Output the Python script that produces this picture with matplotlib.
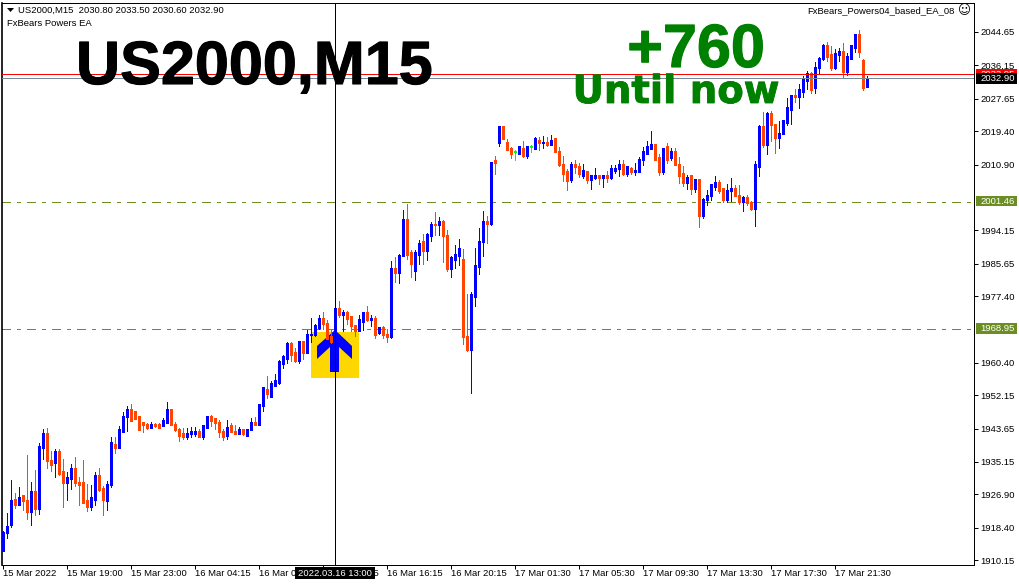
import matplotlib
matplotlib.use('Agg')
import matplotlib.pyplot as plt
import matplotlib.patheffects as pe
from matplotlib.patches import Rectangle, Polygon

plt.rcParams['font.family'] = ['Liberation Sans', 'DejaVu Sans']

# OHLC of the US2000 M15 bars
opens = [1912.7,1917.1,1919.1,1925.5,1924.4,1926.5,1925.2,1922.6,1927.5,1923.2,1938.7,1942.5,1935.6,1934.9,1937.7,1932.6,
         1929.8,1931.0,1933.6,1930.0,1929.8,1925.2,1923.9,1925.7,1931.8,1928.3,1925.2,1929.3,1939.7,1938.9,1943.0,1946.8,
         1948.4,1947.9,1946.6,1945.1,1944.8,1944.0,1944.8,1944.8,1944.3,1945.3,1948.4,1944.8,1943.5,1942.3,1941.5,1942.3,
         1942.5,1943.0,1941.5,1944.0,1946.8,1946.1,1945.3,1943.0,1941.8,1944.3,1943.0,1942.5,1943.5,1942.0,1943.3,1945.3,
         1944.8,1949.6,1953.7,1951.9,1954.7,1955.5,1960.3,1961.6,1965.4,1962.9,1961.1,1965.7,1962.9,1967.5,1967.5,1969.5,
         1971.6,1970.5,1967.2,1968.7,1974.1,1972.6,1973.1,1972.1,1969.8,1968.7,1971.0,1973.1,1971.3,1971.6,1968.0,1969.3,
         1967.5,1967.0,1984.3,1983.3,1987.6,1997.0,1988.4,1983.8,1988.1,1991.2,1988.9,1992.9,1995.7,1995.5,1996.5,1992.9,
         1984.3,1986.8,1987.8,1986.8,1967.2,1963.7,1977.4,1985.0,1991.4,1996.5,1996.0,2011.8,2016.4,2020.5,2016.6,2015.1,
         2014.1,2013.8,2015.1,2013.3,2015.4,2015.1,2017.1,2016.4,2016.6,2016.1,2017.4,2014.3,2011.0,2009.0,2007.0,2010.8,
         2010.3,2008.2,2009.2,2007.0,2007.7,2008.0,2007.5,2008.0,2007.5,2009.5,2009.8,2011.0,2008.5,2010.0,2009.0,2009.0,
         2012.3,2013.6,2015.1,2015.9,2012.6,2009.2,2015.4,2012.6,2014.3,2011.0,2008.7,2006.4,2008.0,2004.9,2007.0,1998.0,
         2001.9,2002.9,2005.2,2006.4,2004.7,2001.9,2004.2,2004.7,2003.1,2001.4,2002.6,2001.1,1999.6,2010.5,2020.7,2016.1,
         2024.0,2021.2,2017.9,2018.7,2021.7,2025.0,2028.6,2028.1,2029.6,2032.4,2034.0,2030.4,2035.5,2038.0,2041.3,2038.8,
         2035.7,2038.8,2039.8,2034.7,2038.0,2040.8,2043.9,2037.3,2030.8]
highs = [1917.6,1922.1,1930.5,1927.2,1928.8,1926.7,1936.9,1930.0,1933.1,1940.0,1943.5,1943.8,1937.9,1938.4,1938.4,1935.9,
         1932.6,1934.6,1936.4,1931.3,1935.6,1929.5,1929.3,1932.6,1933.6,1929.0,1930.3,1941.5,1941.5,1944.3,1947.9,1949.4,
         1949.9,1947.9,1946.8,1945.3,1945.1,1945.3,1945.1,1945.1,1946.3,1950.4,1948.6,1945.3,1943.8,1943.8,1943.8,1944.0,
         1944.0,1943.5,1944.6,1946.8,1947.1,1946.3,1945.8,1943.5,1945.8,1945.1,1944.6,1944.0,1943.5,1943.5,1946.3,1946.6,
         1949.9,1954.0,1957.0,1955.8,1957.5,1961.1,1962.4,1965.7,1965.7,1964.2,1965.7,1965.9,1968.7,1971.8,1970.3,1972.6,
         1973.3,1971.3,1968.7,1974.1,1976.1,1973.8,1973.6,1972.1,1970.0,1972.6,1973.1,1974.9,1972.6,1972.3,1969.5,1969.8,
         1969.0,1986.3,1987.3,1988.1,1999.3,2000.8,1989.1,1989.1,1991.7,1993.2,1993.5,1996.3,1998.8,1997.5,1996.8,1994.2,
         1987.6,1990.4,1991.9,1989.4,1977.9,1978.4,1989.6,1994.7,1999.1,1997.8,2011.5,2013.1,2020.5,2020.5,2017.4,2015.4,
         2014.6,2015.4,2016.9,2015.6,2015.9,2017.9,2017.9,2018.2,2017.9,2018.4,2017.4,2015.4,2013.1,2009.8,2011.5,2012.0,
         2011.3,2011.0,2009.2,2008.0,2010.0,2008.0,2008.2,2009.2,2010.8,2010.8,2012.0,2012.0,2010.5,2010.3,2011.3,2012.8,
         2015.4,2016.9,2019.4,2015.9,2013.6,2015.1,2016.4,2015.1,2015.1,2012.8,2010.5,2008.2,2008.2,2007.2,2007.2,2002.4,
         2004.4,2006.0,2008.0,2007.0,2004.9,2005.9,2007.5,2005.7,2005.7,2002.9,2003.1,2001.6,2011.8,2021.0,2024.3,2024.3,
         2024.5,2021.2,2022.0,2022.0,2027.8,2028.6,2030.1,2031.4,2033.4,2034.7,2034.5,2037.0,2038.3,2041.6,2042.1,2041.1,
         2040.3,2040.6,2041.8,2039.3,2041.3,2044.1,2045.2,2037.8,2033.5]
lows = [1912.7,1915.8,1918.6,1923.4,1924.2,1922.9,1920.6,1919.1,1921.6,1921.9,1935.9,1933.6,1932.8,1931.3,1931.8,1923.7,
        1925.5,1928.3,1929.0,1924.2,1924.7,1922.6,1922.9,1924.2,1927.7,1921.6,1922.9,1928.8,1937.4,1938.7,1943.0,1943.0,
        1945.6,1946.1,1943.5,1942.8,1943.5,1943.8,1944.0,1943.8,1944.3,1945.3,1944.6,1943.0,1940.5,1941.0,1941.0,1941.5,
        1941.8,1941.5,1941.0,1944.0,1944.3,1943.5,1941.5,1940.7,1941.0,1942.8,1942.3,1942.5,1942.0,1941.8,1943.3,1944.8,
        1944.8,1948.1,1951.4,1951.9,1954.5,1955.0,1959.1,1960.3,1960.9,1960.6,1960.3,1961.4,1962.9,1965.7,1967.2,1969.0,
        1969.0,1966.5,1965.4,1966.2,1972.1,1968.5,1970.3,1968.5,1967.2,1968.7,1968.7,1971.0,1969.8,1966.7,1967.7,1966.7,
        1965.7,1966.7,1981.0,1980.7,1987.6,1986.8,1982.3,1981.5,1985.6,1985.6,1986.6,1991.4,1992.9,1992.9,1986.1,1983.8,
        1982.3,1984.5,1985.3,1965.2,1963.4,1952.7,1974.9,1983.0,1987.6,1990.9,1995.5,2008.5,2015.6,2017.4,2014.6,2012.6,
        2012.0,2013.6,2012.8,2012.6,2014.1,2014.9,2014.6,2015.1,2015.6,2015.9,2014.1,2010.5,2006.7,2004.4,2006.4,2008.7,
        2007.7,2007.5,2006.2,2004.7,2007.2,2005.9,2005.2,2006.4,2007.2,2008.7,2008.0,2008.2,2008.0,2008.5,2008.2,2009.0,
        2010.8,2013.6,2015.1,2012.0,2008.2,2008.5,2011.3,2012.0,2011.0,2006.2,2005.4,2004.7,2003.4,2003.9,1995.0,1997.3,
        2000.6,2001.9,2004.4,2003.6,2001.4,2001.4,2001.6,2003.1,2000.8,1999.1,2000.6,1999.3,1995.2,2008.0,2015.4,2013.6,
        2016.9,2013.8,2015.1,2018.7,2021.0,2021.2,2026.8,2025.3,2028.1,2030.1,2029.1,2029.1,2034.0,2037.5,2037.3,2035.0,
        2035.2,2037.3,2033.0,2033.7,2038.0,2039.6,2038.3,2029.9,2030.6]
closes = [1917.1,1918.8,1925.2,1924.4,1926.2,1925.2,1922.6,1927.5,1923.4,1939.2,1942.5,1935.4,1934.6,1937.7,1932.3,1930.0,
          1931.3,1933.6,1929.8,1929.5,1924.9,1923.9,1926.0,1931.8,1928.0,1925.5,1929.5,1940.2,1938.9,1943.3,1946.8,1948.6,
          1945.8,1946.3,1943.5,1944.6,1943.8,1944.6,1944.3,1944.0,1945.6,1948.4,1944.6,1943.3,1942.0,1941.5,1942.5,1942.8,
          1943.0,1941.5,1944.3,1946.8,1945.8,1945.1,1942.8,1941.5,1944.0,1943.0,1942.5,1943.5,1942.3,1943.5,1945.3,1944.8,
          1949.9,1954.0,1952.7,1955.0,1955.8,1960.6,1961.9,1965.4,1962.6,1960.9,1965.7,1962.9,1967.7,1967.7,1969.8,1971.8,
          1970.3,1966.7,1965.7,1974.1,1972.6,1973.1,1971.8,1969.8,1968.7,1971.3,1973.1,1971.3,1971.8,1967.7,1969.3,1967.5,
          1967.0,1984.5,1983.3,1987.6,1997.0,1988.1,1985.8,1988.4,1990.9,1988.9,1993.2,1995.5,1995.5,1996.5,1992.7,1984.3,
          1987.1,1988.1,1989.4,1967.0,1963.7,1977.7,1985.3,1991.4,1996.3,1996.0,2011.3,2011.3,2020.5,2017.4,2014.6,2013.6,
          2014.1,2015.4,2013.1,2015.4,2015.4,2017.4,2016.4,2016.6,2016.1,2017.1,2014.1,2010.8,2008.7,2006.7,2010.8,2010.3,
          2008.5,2009.5,2007.0,2008.0,2008.0,2007.5,2008.0,2007.5,2009.8,2010.0,2011.0,2008.5,2010.3,2009.0,2009.5,2012.3,
          2014.1,2015.4,2015.9,2012.3,2009.2,2015.1,2012.3,2014.1,2011.0,2008.2,2006.4,2007.7,2004.9,2007.2,1998.0,2002.1,
          2003.1,2005.7,2006.4,2004.4,2002.1,2004.4,2004.7,2003.1,2001.4,2002.6,2001.1,1999.6,2011.0,2020.7,2016.1,2024.0,
          2021.0,2017.9,2018.9,2022.0,2025.3,2028.6,2028.1,2029.9,2032.7,2034.0,2030.1,2035.7,2038.0,2041.1,2038.5,2035.7,
          2039.3,2039.8,2034.5,2038.3,2041.1,2044.1,2039.6,2030.6,2032.9]

# axis labels
date_ticks = list(range(0, 217, 16))
date_labels = ['15 Mar 2022', '15 Mar 19:00', '15 Mar 23:00', '16 Mar 04:15', '16 Mar 08:15', '16 Mar 12:15',
               '16 Mar 16:15', '16 Mar 20:15', '17 Mar 01:30', '17 Mar 05:30', '17 Mar 09:30', '17 Mar 13:30',
               '17 Mar 17:30', '17 Mar 21:30']
price_ticks = [2044.65, 2036.15, 2027.65, 2019.40, 2010.90, 1994.15, 1985.65, 1977.40,
               1960.40, 1952.15, 1943.65, 1935.15, 1926.90, 1918.40, 1910.15]

# horizontal levels
bid_price = 2032.90
red_price = 2033.95
level_prices = [2001.46, 1968.95]
signal_bar = 83

W, H = 1020, 584
L, R, T, B = 2.5, 974.5, 2.5, 564.5
PX = 0.72  # one pixel in points


def fx(x):
    return x / W


def fy(y):
    return 1 - y / H


fig = plt.figure(figsize=(W / 100, H / 100), dpi=100)
ax = fig.add_axes([fx(L), fy(B), (R - L) / W, (B - T) / H])
ax.set_xlim((L - 3.5) / 4, (R - 3.5) / 4)
ax.set_ylim(2052.8 - 0.2547 * B, 2052.8 - 0.2547 * T)

# signal box and arrow go under the candles
ax.add_patch(Rectangle((fx(311), fy(378)), 48 / W, 46 / H, transform=fig.transFigure, color='#FFD700', lw=0, zorder=1))
arrow = [(335, 330), (352, 346), (352, 359), (339, 347), (339, 372), (330, 372), (330, 347), (317, 359), (317, 346)]
ax.add_patch(Polygon([(fx(x), fy(y)) for x, y in arrow], transform=fig.transFigure, color='#0000FF', lw=0, zorder=1.5))

# candles: wick one pixel, body three pixels and never thinner than one
half = 0.2547 / 2
for i in range(len(opens)):
    o, h, l, c = opens[i], highs[i], lows[i], closes[i]
    color = '#00FF00' if o == c else ('#0000FF' if c > o else '#FF4500')
    ax.vlines(i, l, h, color=color, lw=PX, antialiased=False, zorder=3)
    ax.vlines(i, min(o, c) - half, max(o, c) + half, color=color, lw=3 * PX, antialiased=False, capstyle='butt', zorder=3)

# levels
ax.axhline(bid_price, color='#778899', lw=PX, zorder=4)
ax.axhline(red_price, color='#FF0000', lw=PX, zorder=4)
for p in level_prices:
    ax.axhline(p, color='#6B8E23', lw=PX, ls=(0, (9, 6, 3, 6)), antialiased=False, zorder=2)
ax.axvline(signal_bar, color='black', lw=PX, zorder=5)

# axes
for s in ax.spines.values():
    s.set_linewidth(PX)
ax.spines['left'].set_linewidth(1.2)
ax.yaxis.tick_right()
ax.set_yticks(price_ticks)
ax.set_yticklabels(['%.2f' % p for p in price_ticks])
ax.tick_params(axis='y', length=3, width=PX, pad=1.5, labelsize=6.8)
ax.set_xticks(date_ticks)
ax.set_xticklabels(date_labels, ha='left')
ax.tick_params(axis='x', length=3, width=PX, pad=0.5, labelsize=6.8)


# price tags on the right
def price_tag(text, bg, y0, y1, z):
    fig.add_artist(Rectangle((fx(976), fy(y1)), 41 / W, (y1 - y0) / H, transform=fig.transFigure,
                             color=bg, lw=0, zorder=z))
    fig.text(fx(980), fy((y0 + y1) / 2), text, color='white', fontsize=6.8, va='center', ha='left', zorder=z + 0.5)


price_tag('2033.95', '#FF0000', 69, 80, 6)
price_tag('%.2f' % bid_price, 'black', 73, 84, 8)
price_tag('%.2f' % level_prices[0], '#6B8E23', 196, 206, 6)
price_tag('%.2f' % level_prices[1], '#6B8E23', 323, 334, 6)

# crosshair date box
fig.add_artist(Rectangle((fx(295), fy(579)), 80 / W, 12 / H, transform=fig.transFigure, color='black', lw=0, zorder=6))
fig.text(fx(335), fy(573), '2022.03.16 13:00', color='white', fontsize=6.8, ha='center', va='center', zorder=7)

# header text
fig.add_artist(Polygon([(fx(7), fy(8)), (fx(14), fy(8)), (fx(10.5), fy(12))], transform=fig.transFigure, color='black', lw=0))
fig.text(fx(18), fy(10.5), 'US2000,M15  2030.80 2033.50 2030.60 2032.90', fontsize=6.8, va='center')
fig.text(fx(7), fy(24), 'FxBears Powers EA', fontsize=6.8, va='center')
fig.text(fx(955), fy(11), 'FxBears_Powers04_based_EA_08', fontsize=6.8, va='center', ha='right')
fig.text(fx(964), fy(11), '\u263a', fontsize=9, va='center', ha='center', family='DejaVu Sans')

# big captions
fig.text(fx(76), fy(84), 'US2000,M15', fontsize=44, fontweight='bold', color='black', va='baseline', ha='left',
         path_effects=[pe.withStroke(linewidth=0.8, foreground='black')])
fig.text(fx(696), fy(67), '+760', fontsize=44, fontweight='bold', color='#008000', va='baseline', ha='center',
         path_effects=[pe.withStroke(linewidth=0.8, foreground='#008000')])
fig.text(fx(676), fy(103), 'Until now', fontsize=27.8, fontweight='bold', color='#008000', va='baseline', ha='center',
         family='DejaVu Sans', path_effects=[pe.withStroke(linewidth=0.6, foreground='#008000')])

fig.savefig('out.png', dpi=100)
